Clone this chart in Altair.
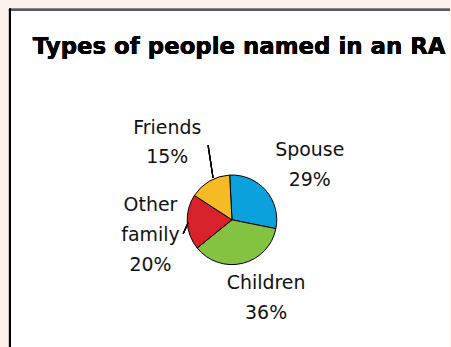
import math
import altair as alt
import pandas as pd

# ---- data ----
categories = ["Spouse", "Children", "Other family", "Friends"]
percents = [29, 36, 20, 15]
label_names = ["Spouse", "Children", "Other\nfamily", "Friends"]
colors = ["#0aa1dd", "#84c341", "#d8222b", "#f5ba24"]
title_text = "Types of people named in an RA"

df = pd.DataFrame({
    "category": categories,
    "pct": percents,
    "order": list(range(len(categories))),
    "label": [f"{n}\n{p}%" for n, p in zip(label_names, percents)],
})

start = -3 * math.pi / 180
theta_scale = alt.Scale(domain=[0, 100], range=[start, start + 2 * math.pi])
CX, CY = 224, 212

base = alt.Chart(df)

pie = base.mark_arc(outerRadius=45, stroke="black", strokeWidth=1).encode(
    theta=alt.Theta("pct:Q", stack=True, scale=theta_scale),
    order=alt.Order("order:Q"),
    color=alt.Color("category:N", scale=alt.Scale(domain=categories, range=colors), legend=None),
    x=alt.value(CX), y=alt.value(CY),
)

def label_layer(cat, radius, dx, dy):
    return base.mark_text(
        radius=radius, dx=dx, dy=dy, font="DejaVu Sans", fontSize=19,
        lineBreak="\n", lineHeight=30, color="#111111", align="center", baseline="middle",
    ).encode(
        theta=alt.Theta("pct:Q", stack=True, scale=theta_scale),
        order=alt.Order("order:Q"),
        text=alt.condition(f"datum.category == '{cat}'", alt.Text("label:N"), alt.value("")),
        x=alt.value(CX), y=alt.value(CY),
    )

labels = [
    label_layer("Spouse", 90, 10, -11),
    label_layer("Children", 85, 14, -19),
    label_layer("Other family", 80, -2, -19),
    label_layer("Friends", 100, -15, -6),
]

leader1 = base.mark_rule(color="black", strokeWidth=1.2).encode(
    x=alt.value(200), y=alt.value(137), x2=alt.value(205), y2=alt.value(170))
leader2 = base.mark_rule(color="black", strokeWidth=1.2).encode(
    x=alt.value(180), y=alt.value(215), x2=alt.value(175), y2=alt.value(226))

title = base.mark_text(
    font="DejaVu Sans", fontSize=23, fontWeight="bold", align="left", baseline="alphabetic", color="black"
).encode(x=alt.value(24), y=alt.value(45), text=alt.value(title_text))

border_top = base.mark_rule(color="#5a5a5a", strokeWidth=2).encode(
    x=alt.value(0), x2=alt.value(443), y=alt.value(1))
border_left = base.mark_rule(color="black", strokeWidth=2).encode(
    x=alt.value(1), y=alt.value(0), y2=alt.value(340))

chart = alt.layer(pie, *labels, leader1, leader2, title, border_top, border_left).properties(
    width=443, height=340,
    padding={"left": 8, "top": 7, "right": 0, "bottom": 0},
    background="#fdf1ee",
).configure_view(fill="white", strokeWidth=0)

chart.save("out.html", embed_options={"renderer": "svg", "actions": False})
